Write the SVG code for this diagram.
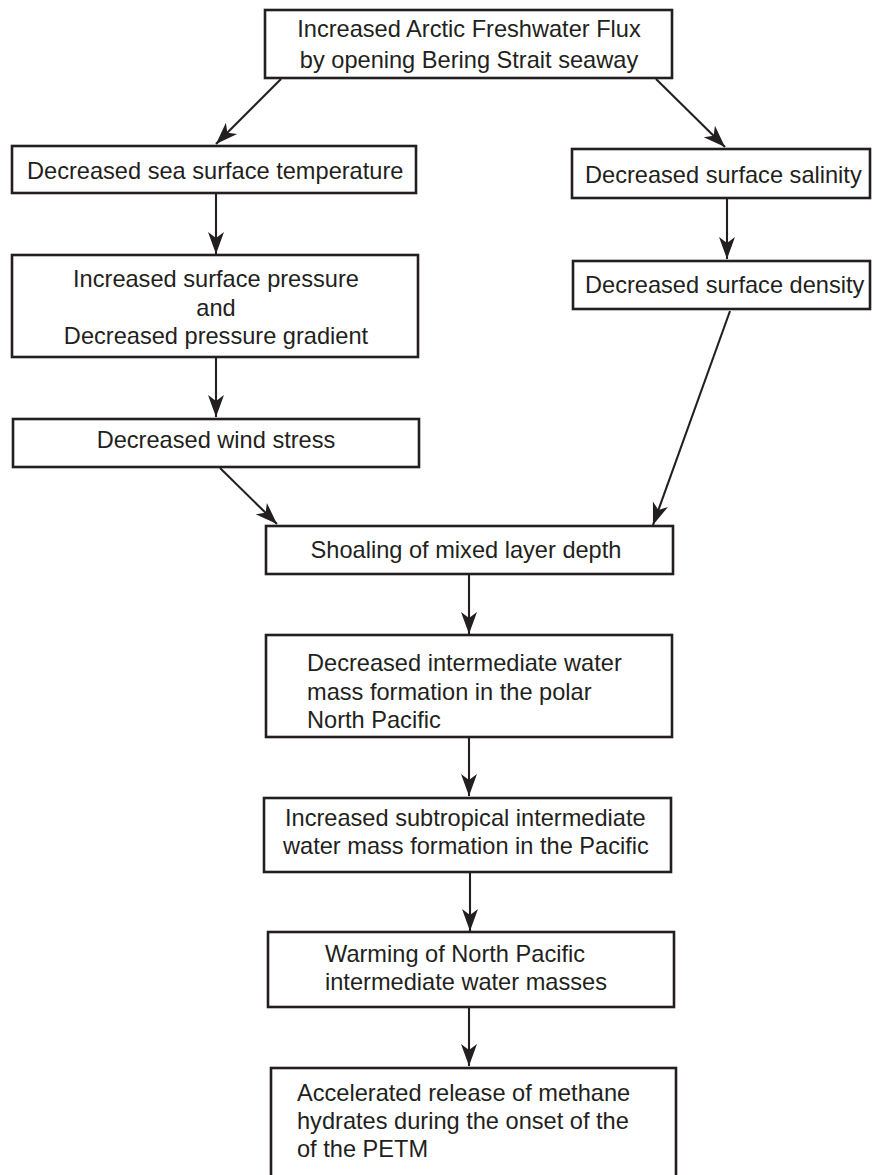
<svg xmlns="http://www.w3.org/2000/svg" width="872" height="1175" viewBox="0 0 872 1175">
<style>
.box{fill:#fff;stroke:#231f20;stroke-width:2.6}
.t{font-family:"Liberation Sans",Arial,sans-serif;font-size:23.6px;fill:#231f20}
.c{text-anchor:middle}
.ln{stroke:#231f20;stroke-width:2.1;fill:none;marker-end:url(#ah)}
</style>
<defs>
<marker id="ah" markerUnits="userSpaceOnUse" viewBox="-23 -9 24 18" refX="0" refY="0" markerWidth="24" markerHeight="18" orient="auto">
<path d="M0,0 L-22,-8 L-16,0 L-22,8 Z" fill="#231f20"/>
</marker>
</defs>
<rect width="872" height="1175" fill="#fff"/>
<g id="connectors">
<line class="ln" x1="281" y1="79" x2="216" y2="144"/>
<line class="ln" x1="656" y1="79" x2="725" y2="147"/>
<line class="ln" x1="216" y1="194" x2="216" y2="254"/>
<line class="ln" x1="727" y1="199" x2="727" y2="259"/>
<line class="ln" x1="216" y1="358" x2="216" y2="417"/>
<line class="ln" x1="730" y1="311" x2="653" y2="525"/>
<line class="ln" x1="220" y1="468" x2="277" y2="524"/>
<line class="ln" x1="469" y1="575" x2="469" y2="634"/>
<line class="ln" x1="469" y1="738" x2="469" y2="796"/>
<line class="ln" x1="470" y1="872" x2="470" y2="931"/>
<line class="ln" x1="469" y1="1008" x2="469" y2="1066"/>
</g>
<g id="n1">
<rect class="box" x="265" y="10" width="407" height="68"/>
<text class="t c" x="469" y="37">Increased Arctic Freshwater Flux</text>
<text class="t c" x="469" y="68">by opening Bering Strait seaway</text>
</g>
<g id="n2">
<rect class="box" x="12" y="146" width="404" height="47"/>
<text class="t" x="27" y="179">Decreased sea surface temperature</text>
</g>
<g id="n3">
<rect class="box" x="572" y="149" width="298" height="49"/>
<text class="t" x="585" y="183">Decreased surface salinity</text>
</g>
<g id="n4">
<rect class="box" x="12" y="255" width="406" height="102"/>
<text class="t c" x="216" y="287">Increased surface pressure</text>
<text class="t c" x="216" y="316">and</text>
<text class="t c" x="216" y="344">Decreased pressure gradient</text>
</g>
<g id="n5">
<rect class="box" x="573" y="261" width="297" height="48"/>
<text class="t" x="585" y="293">Decreased surface density</text>
</g>
<g id="n6">
<rect class="box" x="13" y="419" width="406" height="48"/>
<text class="t c" x="216" y="448">Decreased wind stress</text>
</g>
<g id="n7">
<rect class="box" x="266" y="526" width="407" height="48"/>
<text class="t c" x="466" y="558">Shoaling of mixed layer depth</text>
</g>
<g id="n8">
<rect class="box" x="266" y="635" width="406" height="102"/>
<text class="t" x="307" y="671">Decreased intermediate water</text>
<text class="t" x="307" y="700">mass formation in the polar</text>
<text class="t" x="307" y="728">North Pacific</text>
</g>
<g id="n9">
<rect class="box" x="264" y="798" width="407" height="74"/>
<text class="t" x="285" y="826">Increased subtropical intermediate</text>
<text class="t" x="283" y="854">water mass formation in the Pacific</text>
</g>
<g id="n10">
<rect class="box" x="268" y="932" width="406" height="75"/>
<text class="t" x="325" y="962">Warming of North Pacific</text>
<text class="t" x="325" y="990">intermediate water masses</text>
</g>
<g id="n11">
<rect class="box" x="271" y="1068" width="405" height="120"/>
<text class="t" x="297" y="1101">Accelerated release of methane</text>
<text class="t" x="297" y="1129">hydrates during the onset of the</text>
<text class="t" x="297" y="1157">of the PETM</text>
</g>
</svg>
